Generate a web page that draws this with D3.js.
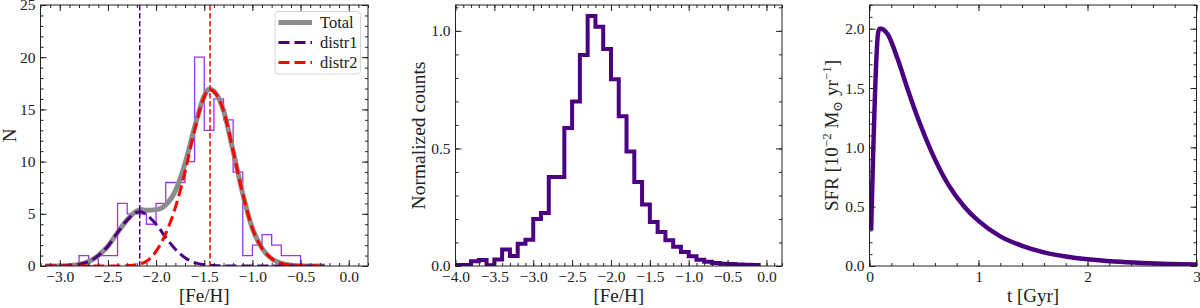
<!DOCTYPE html>
<html>
<head>
<meta charset="utf-8">
<script src="https://cdn.jsdelivr.net/npm/d3@7"></script>
<style>
  body { margin: 0; background: #fff; }
  svg text { font-family: "Liberation Serif", "DejaVu Serif", serif; fill: #222; }
</style>
</head>
<body>
<script>
// ---- panel 1: [Fe/H] histogram with two-component fit
var p1Edges = [-2.8, -2.7, -2.6, -2.5, -2.4, -2.3, -2.2, -2.1, -2.0, -1.9, -1.8, -1.7,
               -1.6, -1.5, -1.4, -1.3, -1.2, -1.1, -1.0, -0.9, -0.8, -0.7, -0.6, -0.5];
var p1Counts = [1, 0, 1, 1, 6, 5, 5, 4, 6, 8, 8, 10, 20, 13, 16, 14, 9, 1, 2, 3, 2, 1, 1];

var fitX   = [-3.15, -3.0, -2.9, -2.8, -2.7, -2.6, -2.5, -2.4, -2.3, -2.2, -2.16, -2.1, -2.0, -1.9, -1.8,
              -1.7, -1.6, -1.5, -1.45, -1.4, -1.3, -1.2, -1.1, -1.0, -0.9, -0.8, -0.7, -0.6, -0.5, -0.4, -0.25];
var distr1 = [0, 0.01, 0.05, 0.15, 0.42, 1.0, 1.9, 3.2, 4.4, 5.15, 5.2, 4.9, 4.0, 2.75, 1.6,
              0.8, 0.33, 0.12, 0.07, 0.04, 0.01, 0, 0, 0, 0, 0, 0, 0, 0, 0, 0];
var distr2 = [0, 0, 0, 0, 0, 0, 0, 0, 0.03, 0.12, 0.2, 0.45, 1.4, 3.1, 5.6,
              9.0, 13.0, 16.2, 16.9, 16.7, 14.9, 11.0, 6.9, 3.6, 1.7, 0.7, 0.25, 0.08, 0.02, 0, 0];
var total  = [0, 0.01, 0.05, 0.15, 0.42, 1.0, 1.9, 3.2, 4.43, 5.27, 5.4, 5.35, 5.4, 5.85, 7.2,
              9.8, 13.3, 16.3, 16.95, 16.75, 14.9, 11.0, 6.9, 3.6, 1.7, 0.7, 0.25, 0.08, 0.02, 0, 0];
var peak1 = -2.17, peak2 = -1.44;

// ---- panel 2: normalized MDF
var p2Edges = [-4.0, -3.9, -3.8, -3.7, -3.6, -3.5, -3.4, -3.3, -3.2, -3.1, -3.0, -2.9, -2.8, -2.7,
               -2.6, -2.5, -2.4, -2.3, -2.2, -2.1, -2.0, -1.9, -1.8, -1.7, -1.6, -1.5, -1.4, -1.3,
               -1.2, -1.1, -1.0, -0.9, -0.8, -0.7, -0.6, -0.5, -0.4, -0.3, -0.2, -0.1];
var p2Counts = [0.004, 0.004, 0.02, 0.025, 0.003, 0.028, 0.07, 0.043, 0.095, 0.112, 0.2, 0.225,
                0.379, 0.379, 0.587, 0.70, 0.897, 1.063, 1.017, 0.923, 0.794, 0.637, 0.487, 0.357,
                0.262, 0.187, 0.145, 0.109, 0.082, 0.06, 0.041, 0.027, 0.018, 0.013, 0.01, 0.008,
                0.006, 0.005, 0.004];

// ---- panel 3: star formation history
var sfrT = [0.015, 0.08, 0.095, 0.11, 0.13, 0.17, 0.26, 0.35, 0.45, 0.57, 0.72, 0.87, 1.0,
            1.2, 1.4, 1.6, 1.8, 2.0, 2.25, 2.5, 2.75, 3.0];
var sfrV = [0.3, 1.97, 2.0, 2.0, 1.99, 1.95, 1.74, 1.49, 1.23, 0.96, 0.69, 0.5, 0.38,
            0.25, 0.17, 0.115, 0.08, 0.056, 0.037, 0.025, 0.017, 0.012];

var W = 1200, H = 308;
var indigo = "#4b0082";

var svg = d3.select("body").append("svg")
  .attr("width", W).attr("height", H);

var plotTop = 5, plotBottom = 266;

function frame(id, x0, x1, xDom, yDom) {
  var x = d3.scaleLinear().domain(xDom).range([x0, x1]);
  var y = d3.scaleLinear().domain(yDom).range([plotBottom, plotTop]);
  var g = svg.append("g");
  svg.append("clipPath").attr("id", id)
    .append("rect").attr("x", x0).attr("y", plotTop).attr("width", x1 - x0).attr("height", plotBottom - plotTop);
  var plot = g.append("g").attr("clip-path", "url(#" + id + ")");
  return { x: x, y: y, g: g, plot: plot, x0: x0, x1: x1 };
}

// inward ticks on all four sides, major and minor
function axes(p, xMajor, xMinor, yMajor, yMinor, xFmt, yFmt) {
  var g = p.g, x = p.x, y = p.y;
  var big = 6, small = 3;
  function put(axis, tr) {
    var a = g.append("g").attr("transform", tr).call(axis);
    a.select(".domain").remove();
    a.selectAll("line").attr("stroke", "#222");
    a.selectAll("text").attr("font-size", 15.5).attr("fill", "#222")
      .attr("font-family", "Liberation Serif, serif");
    return a;
  }
  put(d3.axisBottom(x).tickValues(xMinor).tickSize(-small).tickFormat(""), "translate(0," + plotBottom + ")");
  put(d3.axisTop(x).tickValues(xMinor).tickSize(-small).tickFormat(""), "translate(0," + plotTop + ")");
  put(d3.axisLeft(y).tickValues(yMinor).tickSize(-small).tickFormat(""), "translate(" + p.x0 + ",0)");
  put(d3.axisRight(y).tickValues(yMinor).tickSize(-small).tickFormat(""), "translate(" + p.x1 + ",0)");
  put(d3.axisBottom(x).tickValues(xMajor).tickSize(-big).tickFormat(xFmt), "translate(0," + plotBottom + ")")
    .selectAll("text").attr("dy", "0.71em").attr("y", 5);
  put(d3.axisTop(x).tickValues(xMajor).tickSize(-big).tickFormat(""), "translate(0," + plotTop + ")");
  put(d3.axisLeft(y).tickValues(yMajor).tickSize(-big).tickFormat(yFmt), "translate(" + p.x0 + ",0)")
    .selectAll("text").attr("x", -5);
  put(d3.axisRight(y).tickValues(yMajor).tickSize(-big).tickFormat(""), "translate(" + p.x1 + ",0)");
  g.append("rect").attr("x", p.x0).attr("y", plotTop)
    .attr("width", p.x1 - p.x0).attr("height", plotBottom - plotTop)
    .attr("fill", "none").attr("stroke", "#222").attr("stroke-width", 1);
}

function steps(lo, hi, step) {
  var n = Math.round((hi - lo) / step), out = [];
  for (var i = 0; i <= n; i++) out.push(+(lo + i * step).toFixed(3));
  return out;
}

function stepPoints(edges, counts) {
  var pts = [[edges[0], 0]];
  counts.forEach(function(c, i) { pts.push([edges[i], c]); });
  pts.push([edges[edges.length - 1], counts[counts.length - 1]]);
  pts.push([edges[edges.length - 1], 0]);
  return pts;
}

function xLabel(p, txt) {
  p.g.append("text").attr("x", (p.x0 + p.x1) / 2).attr("y", 302)
    .attr("text-anchor", "middle").attr("font-size", 19).text(txt);
}

// ================= panel 1
var p1 = frame("c1", 40.5, 368, [-3.2, 0.2], [0, 25]);
var line1 = d3.line().x(function(d) { return p1.x(d[0]); }).y(function(d) { return p1.y(d[1]); });

p1.plot.append("path")
  .attr("d", line1.curve(d3.curveStepAfter)(stepPoints(p1Edges, p1Counts)))
  .attr("fill", "none").attr("stroke", "#9d35ea").attr("stroke-width", 1.3);

var smooth1 = d3.line().curve(d3.curveMonotoneX)
  .x(function(d) { return p1.x(d[0]); }).y(function(d) { return p1.y(d[1]); });

p1.plot.append("path").attr("d", smooth1(fitX.map(function(v, i) { return [v, total[i]]; })))
  .attr("fill", "none").attr("stroke", "#8c8c8c").attr("stroke-width", 5);
p1.plot.append("path").attr("d", smooth1(fitX.map(function(v, i) { return [v, distr1[i]]; })))
  .attr("fill", "none").attr("stroke", indigo).attr("stroke-width", 3).attr("stroke-dasharray", "11,5");
p1.plot.append("path").attr("d", smooth1(fitX.map(function(v, i) { return [v, distr2[i]]; })))
  .attr("fill", "none").attr("stroke", "#ff0000").attr("stroke-width", 3).attr("stroke-dasharray", "11,5");

[[peak1, indigo], [peak2, "#ff0000"]].forEach(function(d) {
  p1.plot.append("line").attr("x1", p1.x(d[0])).attr("x2", p1.x(d[0]))
    .attr("y1", plotTop).attr("y2", plotBottom)
    .attr("stroke", d[1]).attr("stroke-width", 1.5).attr("stroke-dasharray", "5.5,2.5");
});

axes(p1, steps(-3.0, 0.0, 0.5), steps(-3.2, 0.2, 0.1), steps(0, 25, 5), steps(0, 25, 1),
     d3.format(".1f"), d3.format("d"));

// legend
var lg = p1.g.append("g");
lg.append("rect").attr("x", 275).attr("y", 11.5).attr("width", 85.5).attr("height", 62.5)
  .attr("rx", 3).attr("fill", "#fff").attr("fill-opacity", 0.8)
  .attr("stroke", "#d6d6d6").attr("stroke-width", 1);
var legItems = [["Total", "#8c8c8c", 5, null], ["distr1", indigo, 3, "11,5"], ["distr2", "#ff0000", 3, "11,5"]];
legItems.forEach(function(d, i) {
  var yy = 22.5 + i * 20;
  lg.append("line").attr("x1", 278.5).attr("x2", 312).attr("y1", yy).attr("y2", yy)
    .attr("stroke", d[1]).attr("stroke-width", d[2]).attr("stroke-dasharray", d[3]);
  lg.append("text").attr("x", 320).attr("y", yy + 5.5).attr("font-size", 16.5).text(d[0]);
});

xLabel(p1, "[Fe/H]");
p1.g.append("text").attr("transform", "translate(16,135.5) rotate(-90)")
  .attr("text-anchor", "middle").attr("font-size", 19).text("N");

// ================= panel 2
var p2 = frame("c2", 455.5, 782, [-4.0, 0.2], [0, 1.11]);
var line2 = d3.line().curve(d3.curveStepAfter)
  .x(function(d) { return p2.x(d[0]); }).y(function(d) { return p2.y(d[1]); });
p2.plot.append("path").attr("d", line2(stepPoints(p2Edges, p2Counts)))
  .attr("fill", "none").attr("stroke", indigo).attr("stroke-width", 4).attr("stroke-linejoin", "miter");

axes(p2, steps(-4.0, 0.0, 0.5), steps(-4.0, 0.2, 0.1), steps(0, 1.0, 0.5), steps(0, 1.1, 0.1),
     d3.format(".1f"), d3.format(".1f"));
xLabel(p2, "[Fe/H]");
p2.g.append("text").attr("transform", "translate(425,135.5) rotate(-90)")
  .attr("text-anchor", "middle").attr("font-size", 19.5).text("Normalized counts");

// ================= panel 3
var p3 = frame("c3", 869.5, 1196.5, [0, 3], [0, 2.2]);
var line3 = d3.line().curve(d3.curveMonotoneX)
  .x(function(d) { return p3.x(d[0]); }).y(function(d) { return p3.y(d[1]); });
p3.plot.append("path").attr("d", line3(sfrT.map(function(t, i) { return [t, sfrV[i]]; })))
  .attr("fill", "none").attr("stroke", indigo).attr("stroke-width", 4.5);

axes(p3, [0, 1, 2, 3], steps(0, 3, 0.2), steps(0, 2.0, 0.5), steps(0, 2.2, 0.1),
     d3.format("d"), d3.format(".1f"));
xLabel(p3, "t [Gyr]");

var yl = p3.g.append("text").attr("transform", "translate(838,135.5) rotate(-90)")
  .attr("text-anchor", "middle").attr("font-size", 19);
yl.append("tspan").text("SFR [10");
yl.append("tspan").attr("dy", -7).attr("font-size", 13).text("−2");
yl.append("tspan").attr("dy", 7).text(" M");
yl.append("tspan").attr("dy", 4).attr("font-size", 13).text("⊙");
yl.append("tspan").attr("dy", -4).text(" yr");
yl.append("tspan").attr("dy", -7).attr("font-size", 13).text("−1");
yl.append("tspan").attr("dy", 7).text("]");
</script>
</body>
</html>
